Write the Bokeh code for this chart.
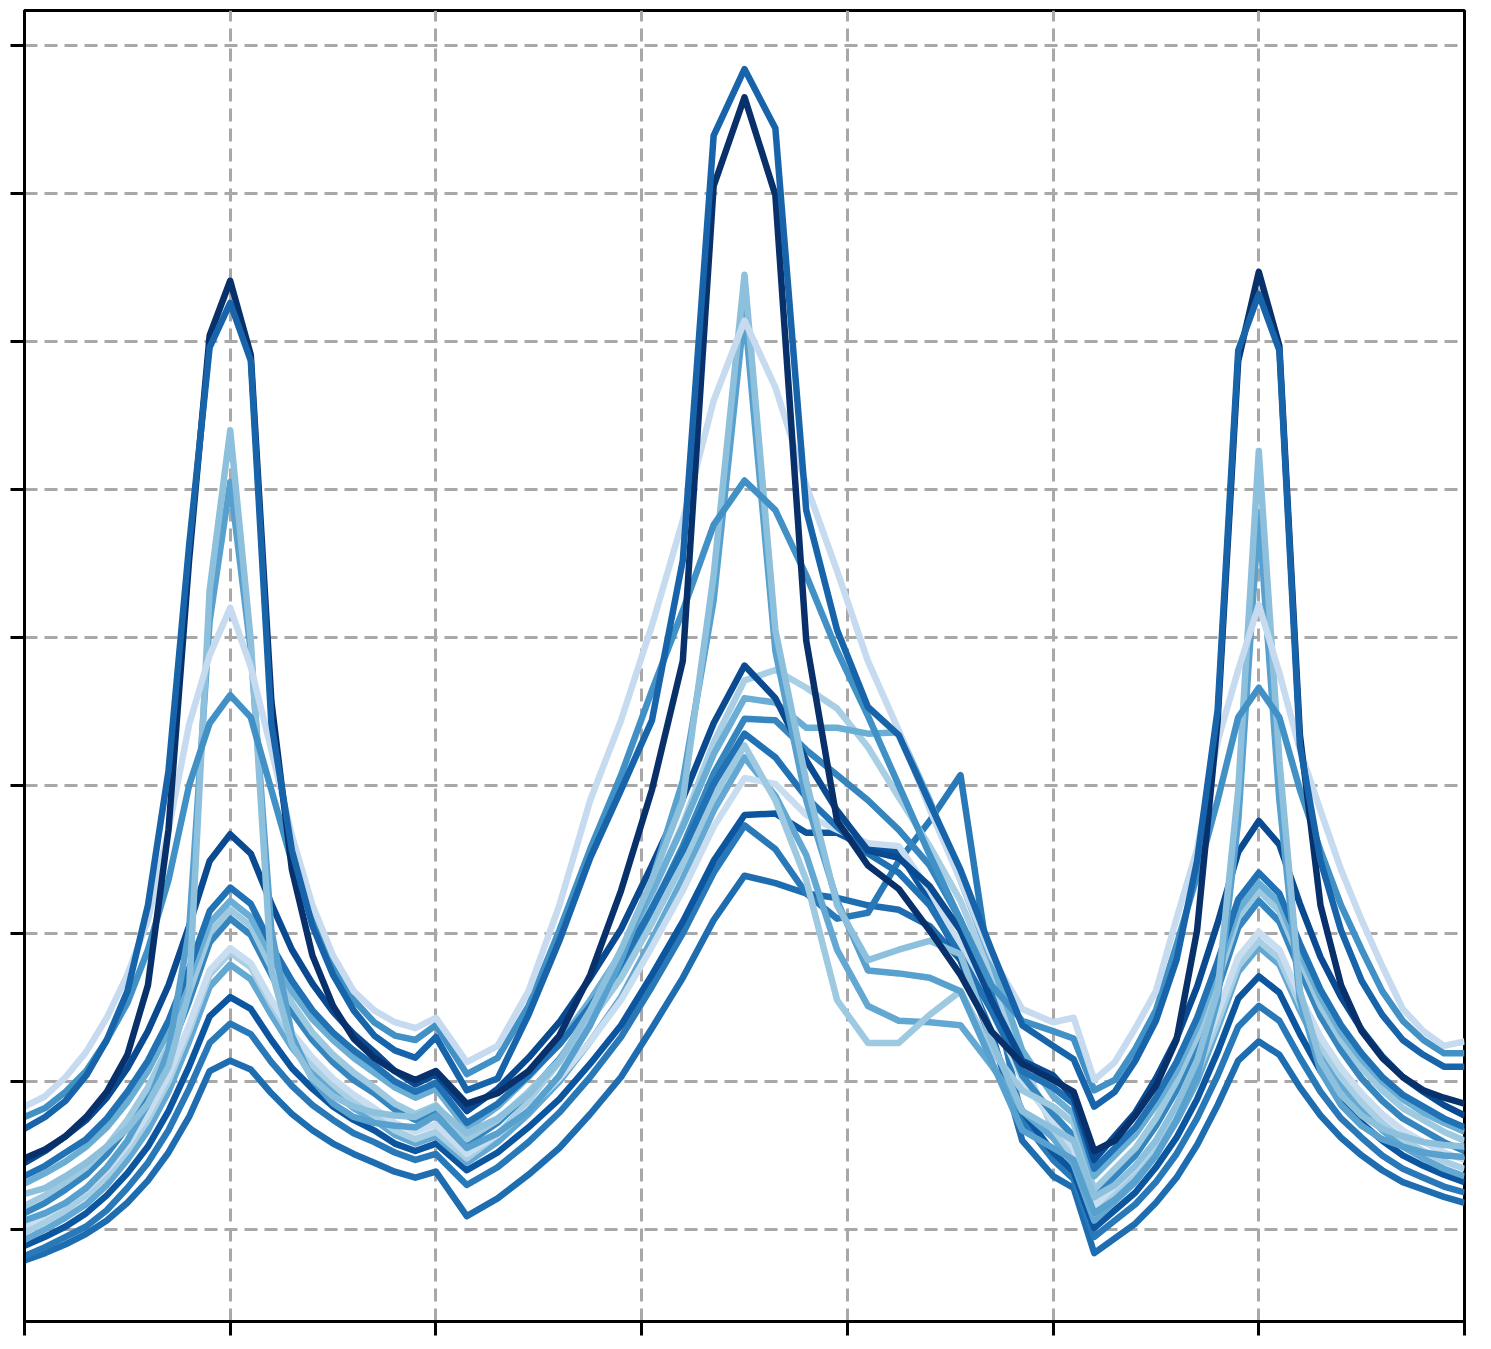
from bokeh.plotting import figure
from bokeh.models import Range1d, FixedTicker
from bokeh.embed import file_html
from bokeh.resources import INLINE

# x positions of the samples (three segments with different spacing)
xs = [0.0, 0.1, 0.2, 0.3, 0.4, 0.5, 0.6, 0.7, 0.8, 0.9, 1.0, 1.1, 1.2, 1.3, 1.4, 1.5, 1.6, 1.7, 1.8, 1.9, 2.0,
      2.15, 2.3, 2.45, 2.6, 2.75, 2.9, 3.05, 3.2, 3.35, 3.5, 3.65, 3.8, 3.95, 4.1, 4.25, 4.4, 4.55, 4.7, 4.85, 5.0,
      5.1, 5.2, 5.3, 5.4, 5.5, 5.6, 5.7, 5.8, 5.9, 6.0, 6.1, 6.2, 6.3, 6.4, 6.5, 6.6, 6.7, 6.8, 6.9, 7.0]

x_ticks = [0, 1, 2, 3, 4, 5, 6, 7]
y_ticks = [0, 1, 2, 3, 4, 5, 6, 7, 8]

series_a = [0.48, 0.54, 0.63, 0.76, 0.93, 1.18, 1.65, 2.70, 4.52, 6.04, 6.41, 5.91, 3.57, 2.43, 1.85, 1.51, 1.29, 1.16, 1.07, 1.01, 1.07,
            0.85, 0.92, 1.07, 1.31, 1.72, 2.29, 2.97, 3.84, 7.05, 7.65, 6.99, 3.98, 2.76, 2.46, 2.30, 2.02, 1.72, 1.34, 1.12, 1.01,
            0.93, 0.53, 0.60, 0.77, 0.97, 1.28, 2.02, 3.44, 5.87, 6.47, 5.97, 3.34, 2.19, 1.65, 1.34, 1.16, 1.03, 0.94, 0.89, 0.85]
series_b = [0.68, 0.76, 0.87, 1.04, 1.28, 1.61, 2.19, 3.10, 4.62, 5.96, 6.26, 5.87, 3.42, 2.56, 2.05, 1.72, 1.48, 1.31, 1.21, 1.16, 1.30,
            0.94, 1.02, 1.45, 1.95, 2.51, 2.97, 3.44, 4.52, 7.39, 7.84, 7.44, 4.86, 4.05, 3.53, 3.34, 2.88, 2.43, 1.89, 1.38, 1.24,
            1.15, 0.83, 0.93, 1.14, 1.41, 1.82, 2.49, 3.51, 5.94, 6.32, 5.94, 3.27, 2.49, 2.02, 1.68, 1.45, 1.28, 1.18, 1.10, 1.10]
series_c = [0.24, 0.28, 0.36, 0.45, 0.56, 0.68, 0.85, 1.10, 1.60, 4.32, 5.40, 3.98, 1.75, 1.25, 1.02, 0.90, 0.83, 0.79, 0.77, 0.76, 0.83,
            0.65, 0.75, 0.91, 1.14, 1.48, 1.89, 2.36, 2.90, 4.42, 6.45, 4.05, 3.03, 2.19, 1.82, 1.89, 1.95, 1.86, 1.28, 0.80, 0.68,
            0.60, 0.22, 0.30, 0.43, 0.60, 0.84, 1.14, 1.61, 2.97, 5.26, 3.17, 1.61, 1.14, 0.91, 0.77, 0.68, 0.63, 0.59, 0.57, 0.56]
series_d = [0.06, 0.11, 0.18, 0.28, 0.42, 0.60, 0.85, 1.21, 2.02, 4.11, 5.05, 3.91, 2.02, 1.31, 1.01, 0.85, 0.76, 0.72, 0.70, 0.69, 0.77,
            0.55, 0.65, 0.80, 1.04, 1.38, 1.82, 2.36, 3.03, 4.25, 6.21, 3.91, 2.90, 2.22, 1.75, 1.73, 1.70, 1.61, 1.14, 0.67, 0.55,
            0.47, 0.11, 0.20, 0.33, 0.50, 0.74, 1.04, 1.55, 2.76, 4.84, 2.90, 1.55, 1.07, 0.84, 0.70, 0.61, 0.56, 0.52, 0.50, 0.49]
series_e = [0.83, 0.90, 1.03, 1.20, 1.43, 1.72, 2.09, 2.70, 3.41, 3.88, 4.20, 3.80, 3.24, 2.66, 2.19, 1.85, 1.61, 1.48, 1.40, 1.36, 1.43,
            1.13, 1.24, 1.61, 2.19, 2.90, 3.44, 4.08, 4.79, 5.60, 6.14, 5.69, 5.03, 4.45, 3.84, 3.37, 2.84, 2.36, 1.85, 1.49, 1.40,
            1.43, 1.01, 1.13, 1.36, 1.61, 2.10, 2.57, 3.30, 3.78, 4.22, 3.76, 3.24, 2.83, 2.43, 2.09, 1.78, 1.49, 1.34, 1.24, 1.27]
series_f = [0.76, 0.82, 0.93, 1.07, 1.28, 1.53, 1.89, 2.36, 3.00, 3.42, 3.61, 3.46, 2.97, 2.48, 2.09, 1.78, 1.55, 1.40, 1.31, 1.28, 1.38,
            1.05, 1.16, 1.51, 2.02, 2.57, 3.07, 3.64, 4.18, 4.76, 5.06, 4.86, 4.42, 3.91, 3.47, 3.00, 2.53, 2.09, 1.65, 1.41, 1.34,
            1.29, 0.94, 1.01, 1.22, 1.48, 1.92, 2.39, 2.90, 3.46, 3.66, 3.46, 2.97, 2.56, 2.19, 1.89, 1.61, 1.41, 1.28, 1.19, 1.19]
series_g = [0.45, 0.53, 0.63, 0.74, 0.89, 1.09, 1.34, 1.65, 2.05, 2.49, 2.67, 2.54, 2.20, 1.89, 1.66, 1.47, 1.32, 1.20, 1.07, 0.98, 1.05,
            0.80, 0.95, 1.16, 1.40, 1.70, 2.03, 2.46, 2.91, 3.42, 3.81, 3.59, 3.17, 2.83, 2.56, 2.51, 2.32, 2.02, 1.55, 1.14, 1.04,
            0.89, 0.47, 0.63, 0.79, 1.02, 1.29, 1.64, 2.07, 2.55, 2.76, 2.60, 2.20, 1.84, 1.57, 1.35, 1.17, 1.03, 0.93, 0.84, 0.77]
series_h = [0.36, 0.43, 0.52, 0.61, 0.75, 0.93, 1.14, 1.41, 1.76, 2.15, 2.31, 2.20, 1.92, 1.68, 1.48, 1.33, 1.21, 1.11, 1.00, 0.93, 0.99,
            0.72, 0.85, 1.04, 1.25, 1.51, 1.80, 2.17, 2.56, 3.01, 3.35, 3.19, 2.92, 2.72, 2.54, 2.41, 2.19, 1.85, 1.48, 1.07, 0.96,
            0.85, 0.41, 0.55, 0.69, 0.89, 1.13, 1.43, 1.81, 2.23, 2.41, 2.27, 1.93, 1.62, 1.38, 1.19, 1.03, 0.91, 0.83, 0.75, 0.69]
series_i = [0.31, 0.38, 0.46, 0.56, 0.69, 0.86, 1.07, 1.34, 1.69, 2.07, 2.22, 2.11, 1.85, 1.61, 1.42, 1.28, 1.16, 1.06, 0.96, 0.89, 0.95,
            0.68, 0.83, 1.03, 1.26, 1.55, 1.87, 2.28, 2.72, 3.21, 3.59, 3.56, 3.39, 3.39, 3.35, 3.36, 2.90, 2.36, 1.82, 1.21, 0.90,
            0.78, 0.36, 0.50, 0.64, 0.84, 1.07, 1.37, 1.75, 2.16, 2.34, 2.21, 1.87, 1.57, 1.33, 1.15, 1.00, 0.88, 0.79, 0.72, 0.66]
series_j = [0.16, 0.23, 0.32, 0.42, 0.56, 0.74, 0.96, 1.24, 1.60, 2.00, 2.16, 2.05, 1.77, 1.53, 1.33, 1.18, 1.06, 0.96, 0.85, 0.78, 0.84,
            0.61, 0.74, 0.93, 1.14, 1.41, 1.70, 2.07, 2.47, 2.92, 3.27, 2.90, 2.36, 1.55, 1.26, 1.26, 1.45, 1.61, 1.21, 0.94, 0.83,
            0.72, 0.27, 0.41, 0.55, 0.75, 1.00, 1.30, 1.68, 2.11, 2.29, 2.15, 1.82, 1.51, 1.28, 1.09, 0.94, 0.82, 0.74, 0.66, 0.60]
series_k = [0.11, 0.18, 0.27, 0.37, 0.51, 0.69, 0.91, 1.18, 1.54, 1.94, 2.10, 1.99, 1.72, 1.47, 1.28, 1.13, 1.01, 0.92, 0.81, 0.74, 0.80,
            0.58, 0.72, 0.92, 1.15, 1.44, 1.76, 2.16, 2.59, 3.08, 3.45, 3.44, 3.24, 3.07, 2.90, 2.70, 2.46, 2.09, 1.55, 1.04, 0.78,
            0.63, 0.22, 0.36, 0.50, 0.70, 0.94, 1.24, 1.62, 2.04, 2.22, 2.08, 1.75, 1.44, 1.21, 1.02, 0.87, 0.75, 0.67, 0.59, 0.53]
series_l = [0.03, 0.10, 0.18, 0.27, 0.40, 0.57, 0.78, 1.04, 1.38, 1.75, 1.90, 1.80, 1.55, 1.33, 1.16, 1.02, 0.91, 0.82, 0.72, 0.66, 0.71,
            0.51, 0.64, 0.81, 1.02, 1.27, 1.55, 1.91, 2.29, 2.72, 3.05, 3.01, 2.80, 2.70, 2.61, 2.59, 2.29, 1.92, 1.48, 1.01, 0.73,
            0.55, 0.16, 0.29, 0.42, 0.60, 0.83, 1.10, 1.46, 1.84, 2.01, 1.89, 1.58, 1.30, 1.09, 0.92, 0.78, 0.67, 0.59, 0.52, 0.47]
series_m = [-0.02, 0.05, 0.13, 0.23, 0.36, 0.53, 0.74, 1.00, 1.34, 1.72, 1.87, 1.77, 1.52, 1.29, 1.11, 0.98, 0.86, 0.77, 0.67, 0.61, 0.66,
            0.48, 0.64, 0.87, 1.13, 1.45, 1.80, 2.26, 2.74, 3.29, 3.71, 3.78, 3.66, 3.52, 3.26, 2.92, 2.59, 2.22, 1.72, 1.14, 0.68,
            0.49, 0.11, 0.24, 0.37, 0.55, 0.77, 1.05, 1.40, 1.78, 1.95, 1.83, 1.52, 1.24, 1.03, 0.86, 0.72, 0.61, 0.53, 0.46, 0.41]
series_n = [-0.07, 0.00, 0.08, 0.17, 0.30, 0.47, 0.67, 0.93, 1.27, 1.64, 1.79, 1.69, 1.45, 1.23, 1.06, 0.93, 0.82, 0.74, 0.64, 0.58, 0.63,
            0.45, 0.59, 0.78, 1.00, 1.27, 1.57, 1.96, 2.37, 2.83, 3.19, 2.93, 2.53, 1.89, 1.51, 1.41, 1.40, 1.38, 1.11, 0.80, 0.62,
            0.44, 0.06, 0.19, 0.32, 0.50, 0.73, 1.00, 1.36, 1.74, 1.91, 1.79, 1.48, 1.20, 0.98, 0.81, 0.67, 0.56, 0.48, 0.41, 0.36]
series_o = [-0.11, -0.05, 0.02, 0.11, 0.23, 0.38, 0.56, 0.80, 1.10, 1.44, 1.57, 1.49, 1.28, 1.09, 0.95, 0.83, 0.74, 0.67, 0.58, 0.53, 0.58,
            0.40, 0.52, 0.69, 0.88, 1.12, 1.38, 1.72, 2.08, 2.49, 2.80, 2.81, 2.68, 2.68, 2.58, 2.55, 2.22, 1.82, 1.28, 0.80, 0.52,
            0.39, 0.01, 0.13, 0.25, 0.42, 0.62, 0.88, 1.20, 1.56, 1.71, 1.60, 1.32, 1.07, 0.88, 0.72, 0.60, 0.50, 0.43, 0.37, 0.32]
series_p = [-0.18, -0.12, -0.05, 0.02, 0.13, 0.28, 0.45, 0.67, 0.95, 1.26, 1.39, 1.32, 1.13, 0.97, 0.84, 0.74, 0.65, 0.59, 0.52, 0.47, 0.51,
            0.30, 0.42, 0.59, 0.79, 1.03, 1.30, 1.64, 2.00, 2.41, 2.73, 2.57, 2.27, 2.10, 2.14, 2.49, 2.76, 3.07, 1.68, 0.74, 0.47,
            0.34, -0.05, 0.06, 0.17, 0.32, 0.51, 0.75, 1.04, 1.37, 1.51, 1.41, 1.16, 0.93, 0.75, 0.62, 0.50, 0.41, 0.35, 0.29, 0.25]
series_q = [-0.21, -0.16, -0.10, -0.03, 0.06, 0.18, 0.33, 0.52, 0.76, 1.07, 1.14, 1.08, 0.92, 0.78, 0.67, 0.58, 0.51, 0.45, 0.39, 0.35, 0.39,
            0.09, 0.21, 0.37, 0.55, 0.78, 1.03, 1.36, 1.70, 2.09, 2.39, 2.34, 2.27, 2.24, 2.19, 2.16, 2.05, 1.82, 1.34, 0.60, 0.36,
            0.28, -0.16, -0.06, 0.04, 0.18, 0.35, 0.57, 0.84, 1.14, 1.27, 1.18, 0.96, 0.77, 0.62, 0.50, 0.40, 0.32, 0.27, 0.22, 0.18]

# (series, colour) in drawing order
lines = [
    (series_q, "#1f6db1"), (series_p, "#2979b9"), (series_o, "#0c56a0"),
    (series_n, "#63a8d3"), (series_m, "#a9cfe5"), (series_l, "#c9ddf0"),
    (series_k, "#3585bf"), (series_j, "#9dc9e1"), (series_i, "#6aaed6"),
    (series_h, "#2171b5"), (series_g, "#0a4a90"), (series_d, "#58a1cf"),
    (series_c, "#8dc0dd"), (series_f, "#4191c6"), (series_e, "#c6dbef"),
    (series_a, "#08306b"), (series_b, "#1764ab"),
]

p = figure(width=1483, height=1348,
           x_range=Range1d(0, 7), y_range=Range1d(-0.622, 8.236),
           output_backend="svg", toolbar_location=None,
           min_border_left=24, min_border_right=19, min_border_top=10, min_border_bottom=27)
p.background_fill_color = "white"
p.border_fill_color = "white"
p.outline_line_color = "black"
p.outline_line_width = 3

for ax, ticks in ((p.xaxis, x_ticks), (p.yaxis, y_ticks)):
    ax.ticker = FixedTicker(ticks=ticks)
    ax.axis_line_color = "black"
    ax.axis_line_width = 3
    ax.major_tick_line_color = "black"
    ax.major_tick_line_width = 3
    ax.major_tick_out = 14
    ax.major_tick_in = 0
    ax.minor_tick_line_color = None
    ax.major_label_text_font_size = "1px"
    ax.major_label_text_color = None
    ax.major_label_standoff = 0

p.xgrid.ticker = FixedTicker(ticks=x_ticks)
p.ygrid.ticker = FixedTicker(ticks=y_ticks)
for g in (p.xgrid, p.ygrid):
    g.grid_line_color = "#a8a8a8"
    g.grid_line_width = 3
    g.grid_line_dash = "13 7"

for ys, col in lines:
    p.line(xs, ys, line_color=col, line_width=6.5, line_join="round")

open("out.html", "w").write(file_html(p, INLINE))
